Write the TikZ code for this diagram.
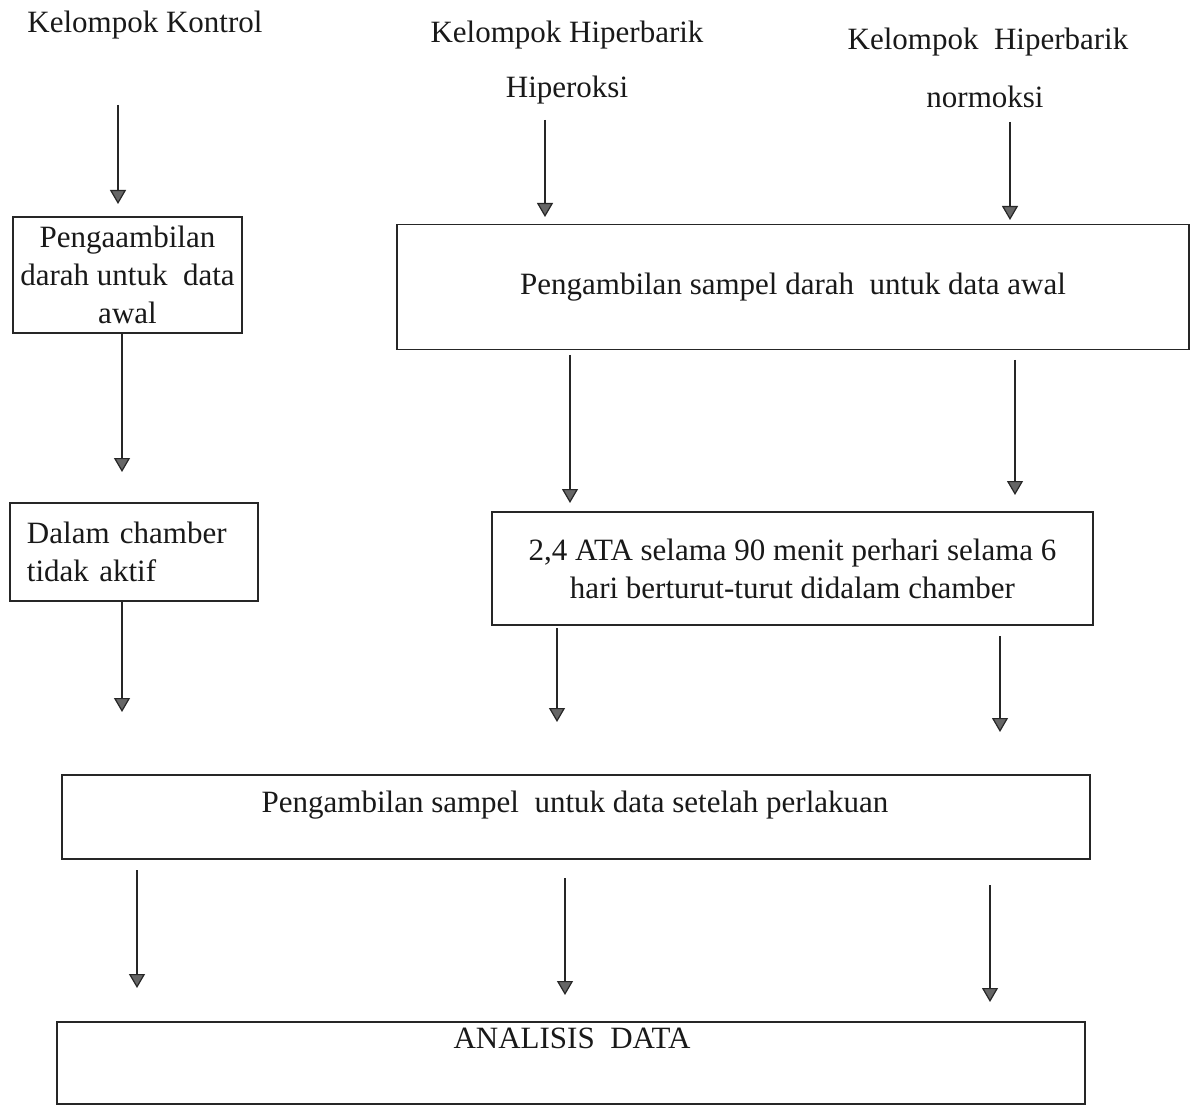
\documentclass[tikz,border=0pt]{standalone}
\usepackage{fontspec}
\setmainfont{Liberation Serif}
\usetikzlibrary{arrows.meta}
\begin{document}
\begin{tikzpicture}[x=1pt,y=-1pt,
  every node/.style={font=\fontsize{31}{38}\selectfont, text=black!90},
  box/.style={draw=black!85, line width=1.3pt, inner sep=0pt},
  arr/.style={draw=black!85, line width=1.2pt, -{Triangle[width=16pt,length=14pt,fill=black!60]}}]
\useasboundingbox[fill=white] (0,0) rectangle (1192,1107);

% headings
\node (k1) at (145,25) {Kelompok Kontrol};
\node (k2) at (567,35) {Kelompok Hiperbarik};
\node (k2b) at (567,90) {Hiperoksi};
\node (k3) at (988,42) {Kelompok\ \ Hiperbarik};
\node (k3b) at (985,97) {normoksi};

% boxes
\node[box, minimum width=229pt, minimum height=116pt, align=center] (b1) at (127.5,275)
  {Pengaambilan\\darah untuk\ \ data\\awal};
\node[box, minimum width=792pt, minimum height=125pt] (b2) at (793,287)
  {Pengambilan sampel darah\ \ untuk data awal};
\node[box, text width=214pt, align=left, inner xsep=17pt, minimum height=98pt] (b3) at (134,552)
  {Dalam chamber\\tidak aktif};
\node[box, minimum width=601pt, minimum height=113pt, align=center] (b4) at (792.5,568.5)
  {2,4 ATA selama 90 menit perhari selama 6\\hari berturut-turut didalam chamber};
\node[box, minimum width=1028pt, minimum height=84pt] (b5) at (576,817) {};
\node (t5) at (575,805) {Pengambilan sampel\ \ untuk data setelah perlakuan};
\node[box, minimum width=1028pt, minimum height=82pt] (b6) at (571,1063) {};
\node (t6) at (572,1038) {ANALISIS\ \ DATA};

% arrow end points
\coordinate (a1s) at (118,105);  \coordinate (a1e) at (118,204);
\coordinate (a2s) at (545,120);  \coordinate (a2e) at (545,217);
\coordinate (a3s) at (1010,122); \coordinate (a3e) at (1010,220);
\coordinate (a4e) at (122,472);
\coordinate (a5s) at (570,355);  \coordinate (a5e) at (570,503);
\coordinate (a6s) at (1015,360); \coordinate (a6e) at (1015,495);
\coordinate (a7e) at (122,712);
\coordinate (a8s) at (557,628);  \coordinate (a8e) at (557,722);
\coordinate (a9s) at (1000,636); \coordinate (a9e) at (1000,732);
\coordinate (a10s) at (137,870); \coordinate (a10e) at (137,988);
\coordinate (a11s) at (565,878); \coordinate (a11e) at (565,995);
\coordinate (a12s) at (990,885); \coordinate (a12e) at (990,1002);

\draw[arr] (a1s) -- (a1e);
\draw[arr] (a2s) -- (a2e);
\draw[arr] (a3s) -- (a3e);
\draw[arr] (b1.south -| a4e) -- (a4e);
\draw[arr] (a5s) -- (a5e);
\draw[arr] (a6s) -- (a6e);
\draw[arr] (b3.south -| a7e) -- (a7e);
\draw[arr] (a8s) -- (a8e);
\draw[arr] (a9s) -- (a9e);
\draw[arr] (a10s) -- (a10e);
\draw[arr] (a11s) -- (a11e);
\draw[arr] (a12s) -- (a12e);
\end{tikzpicture}
\end{document}
